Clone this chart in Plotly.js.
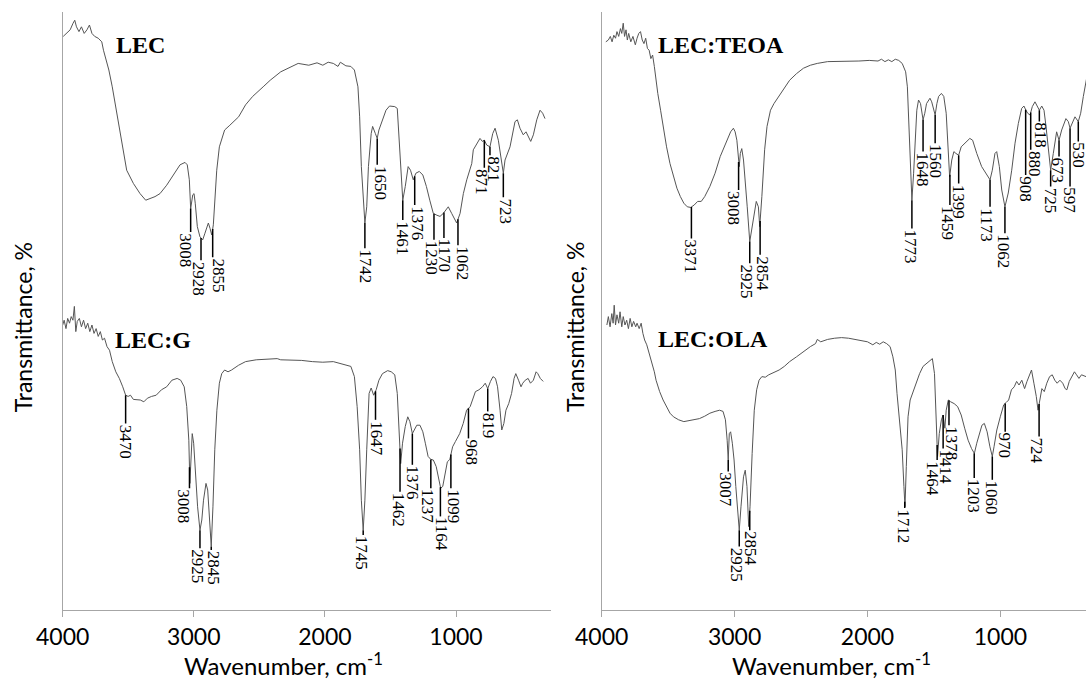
<!DOCTYPE html>
<html><head><meta charset="utf-8">
<script src="https://cdn.plot.ly/plotly-3.0.1.min.js"></script>
<style>html,body{margin:0;padding:0;background:#fff}#chart{width:1086px;height:679px}</style>
</head><body><div id="chart"></div>
<script>
// ---- Spectrum data (wavenumber, cm-1 / transmittance, arbitrary offset %) ----
const lecWn = [3996,3969,3943,3921,3908,3895,3876,3857,3836,3815,3796,3777,3756,3729,3702,3689,3675,3648,3622,3595,3568,3540,3512,3461,3410,3367,3334,3296,3258,3207,3156,3105,3067,3050,3034,3024,3008,2998,2989,2973,2953,2932,2915,2889,2876,2863,2851,2838,2825,2805,2765,2725,2658,2605,2551,2471,2417,2337,2257,2204,2123,2060,2016,1975,1936,1900,1882,1840,1802,1775,1748,1735,1722,1708,1695,1681,1668,1647,1636,1615,1601,1588,1561,1534,1507,1467,1448,1427,1406,1387,1365,1347,1326,1306,1280,1253,1226,1200,1173,1146,1122,1097,1059,1033,995,969,944,918,880,868,842,817,799,784,766,741,720,702,677,651,639,626,588,550,532,512,487,466,448,430,410,384,359,339,321];
const lecT = [95.6,96.1,96.7,97.8,98.3,97.2,96.4,97.2,96.1,96.7,97.5,96.1,95.6,95.3,94.7,93.3,92.2,90,87.2,83.9,80.6,76.7,73.3,71.1,69.4,68.3,68.6,68.9,69.4,70.8,72.5,74.2,74.6,74.2,71.7,66.9,69.2,69.4,67.8,63.9,62.2,61.7,62.8,64.5,63.6,62.5,64.2,68.3,73.3,77.2,80,80.8,82.2,84.2,85.6,87.2,88.3,89.7,90.6,91.1,90.8,91.2,90.8,91.3,91.1,90.6,91.3,90.7,90.6,90,87.2,82.2,73.9,68.3,64.5,67.2,73.9,79.4,80.6,79.4,78.6,80,81.7,83.3,84,83.9,83.6,76.7,68.3,70.6,73.9,73.3,71.7,72.8,73.1,72.5,70.6,68.3,66.1,65.8,65.6,66.1,67.2,66.1,64.5,66.1,69.4,71.7,74.4,76.7,77.8,78.6,78.1,78.3,77.5,77.2,79.4,80.3,78.3,73.9,72.8,75,77.2,81.4,81.7,80.3,79.2,79.7,78.9,78.1,79.2,81.7,83.3,82.8,81.9];

const lecgWn = [4000,3989,3975,3962,3948,3935,3922,3911,3900,3889,3873,3857,3841,3825,3809,3793,3777,3761,3745,3729,3713,3697,3681,3662,3643,3622,3595,3568,3542,3520,3501,3483,3461,3434,3408,3381,3354,3322,3287,3247,3207,3167,3127,3100,3073,3054,3038,3030,3020,3012,3001,2988,2971,2953,2939,2926,2907,2894,2881,2867,2854,2840,2824,2805,2787,2765,2739,2712,2658,2605,2524,2444,2364,2337,2257,2177,2096,2016,1936,1882,1829,1802,1775,1754,1735,1722,1708,1695,1681,1663,1647,1628,1609,1588,1561,1521,1494,1467,1448,1432,1422,1408,1387,1368,1352,1333,1320,1299,1275,1253,1234,1213,1192,1173,1151,1133,1117,1101,1085,1066,1047,1026,1004,972,945,919,892,871,852,825,798,777,758,737,718,699,683,664,651,635,619,598,576,557,544,523,504,491,472,450,432,410,389,376,357,335];
const lecgT = [47.5,48.3,46.9,48.6,47.8,48.9,48.3,50.6,46.4,48.1,48.6,47.2,48.3,46.9,47.8,46.4,47.5,46.1,46.9,45.6,46.4,45,45.3,43.9,43.3,41.4,39.7,38.6,37.2,35.8,35.6,35.8,35.1,35,35,34.7,35.3,35.6,35.8,36.7,37.2,38.3,38.6,38.3,37.2,33.9,28.3,21.1,26.7,29.4,27.8,22.8,17.2,13.3,15,18.3,21.1,20,16.1,10.6,17.2,26.7,33.3,37.8,39.4,40,39.7,40,40.8,41.4,41.7,41.8,41.9,41.7,41.7,41.6,41.4,41.3,41.4,41.1,40.8,40.6,38.9,33.9,26.7,18.3,13.3,18.3,26.7,36.1,37,35.8,36.7,38.3,39.4,39.9,39.7,39.2,36.1,29.4,24.4,27.8,30.6,32.2,31.4,29.4,30,30.8,30.8,29.7,27.8,25.6,25.1,25,23.9,21.7,20.3,20.6,22.8,24.7,25.1,27.2,28.1,29.4,31.1,33.3,33.9,35.3,36.4,36.7,37.2,37.8,36.9,38.1,38.9,38.6,37.2,33.3,30,31.1,33.3,34.4,36.1,38.6,39.4,38.3,37.2,37.8,38.3,38.6,37.8,38.3,39.7,39.4,38.6,38.1];

const teoaWn = [3969,3950,3935,3922,3909,3896,3885,3872,3859,3849,3838,3828,3817,3807,3797,3781,3765,3747,3734,3721,3708,3695,3682,3669,3656,3643,3630,3617,3604,3591,3578,3557,3538,3512,3486,3460,3434,3408,3382,3356,3330,3304,3278,3251,3225,3186,3147,3108,3069,3030,3009,2996,2983,2972,2965,2957,2946,2933,2920,2905,2886,2868,2852,2837,2821,2811,2795,2774,2756,2730,2704,2678,2652,2626,2586,2534,2482,2430,2378,2300,2221,2143,2065,1987,1921,1895,1869,1843,1817,1791,1765,1739,1713,1700,1687,1679,1666,1653,1642,1629,1616,1601,1582,1569,1556,1530,1517,1504,1491,1478,1465,1444,1426,1408,1392,1382,1366,1350,1335,1314,1295,1269,1243,1230,1209,1178,1141,1103,1078,1061,1041,1028,1008,990,966,941,915,890,865,840,823,808,795,777,760,740,723,707,689,672,657,640,622,602,577,559,539,507,489,476,456,439,414,396,376,356,340];
const teoaT = [94.7,95,95.6,94.7,95.8,95.3,96.4,95.6,96.9,96.1,97.8,95.6,96.7,95,96.1,94.7,95.6,94.2,95.3,96.1,96.4,95,94.4,95.3,93.6,93.3,91.9,92.5,90.6,88.3,86.1,83.3,80.6,77.2,74.4,72.2,70.3,68.9,67.8,67.2,67.1,67.5,68.1,68.1,68.9,70.6,72.8,75.6,77.8,79.7,80.3,79.7,78.3,75,73.9,76.1,76.9,75,71.7,67.2,61.4,63.9,66.7,68.1,67.2,63.9,68.9,76.7,80.6,83.3,84.4,85.3,86.1,86.9,88.3,89.4,90.3,90.8,91.1,91.4,91.4,91.4,91.5,91.6,91.5,91.8,91.4,91.7,91.4,91.8,91.6,91.1,89.7,87.2,79.4,73.9,68.3,72.8,78.3,83.3,85,84.4,81.7,82.8,84.4,85.3,84.7,83.3,82.5,84.4,85.6,86.1,85.6,82.8,76.7,72.2,75,76.4,76.1,75.8,77.2,77.8,78.3,78.6,78.3,76.1,73.9,72.5,71.7,73.3,76.1,76.4,73.9,70,67.2,69.5,73.3,77.8,81.1,83.6,84,83.3,82.8,82.5,83.9,84.7,83.9,83.3,84,83.3,80.6,76.7,73.3,76.1,79.7,78.3,80,81.9,81.4,80.3,81.4,82.2,81.4,82.8,85.6,88.3,90];

const olaWn = [3961,3950,3937,3924,3914,3906,3896,3885,3872,3862,3849,3838,3825,3812,3799,3786,3773,3760,3744,3734,3718,3703,3690,3677,3661,3643,3630,3617,3604,3591,3564,3538,3512,3486,3460,3421,3382,3343,3304,3265,3225,3186,3147,3113,3087,3069,3056,3048,3040,3030,3017,3004,2991,2978,2965,2952,2933,2920,2907,2894,2884,2868,2852,2834,2816,2795,2769,2743,2704,2665,2626,2586,2534,2482,2430,2391,2378,2352,2300,2247,2195,2143,2091,2039,2000,1960,1934,1908,1882,1856,1830,1809,1791,1778,1765,1752,1739,1726,1718,1708,1695,1679,1661,1635,1608,1582,1556,1530,1512,1496,1486,1473,1460,1444,1431,1418,1408,1392,1374,1348,1322,1295,1269,1243,1217,1196,1178,1157,1139,1121,1100,1079,1061,1048,1027,1001,975,956,938,917,896,878,860,839,818,800,782,766,748,730,717,704,688,670,651,630,610,591,573,552,531,513,500,482,461,443,427,409,390,356];
const olaT = [47.5,48.9,47.2,49.4,47.8,50.8,47.5,49.2,47.8,49.7,47.2,48.9,47.5,48.3,46.9,48.6,47.2,48.1,47.2,47.8,46.9,47.8,46.1,45,44.2,42.8,41.7,40.8,39.7,38.3,36.4,35,33.9,32.8,32.2,31.7,31.4,31.6,31.8,31.9,32.3,32.8,33.1,33.3,33.1,31.7,28.3,25,29.4,29.7,27.8,25,20.6,16.1,13.3,17.2,22.2,23.3,20.6,13.9,17.2,26.1,33.3,36.7,38.3,38.9,38.8,39.2,39.6,40,40.6,41.4,42.2,43.1,43.9,44.4,45.1,44.7,45.1,45.3,45.4,45.3,45.1,44.9,44.7,44.2,44.6,44.3,44.7,44.4,43.9,42.2,40,36.1,33.3,30.6,26.7,20.6,17.2,23.9,32.2,35,36.1,37.8,39.4,40.6,41.1,41.7,41.9,39.4,33.9,25.6,29.4,31.7,32.5,30.3,33.3,35,34.7,34.4,33.9,32.5,30.3,28.3,26.9,26.1,27.8,29.4,30.8,31.1,29.7,27.2,25.6,27.2,30,32.2,34.2,34.6,35,36.7,37.2,38.1,37.5,38.3,36.9,38.1,39.2,40,37.8,35.6,33.3,35,36.9,36.4,37.8,38.9,39.2,38.3,37.8,38.3,37.8,36.9,36.7,38.1,38.9,39.7,39.2,38.6,39.2,38.9];

// ---- Sample names ----
const sampleNames = ['LEC', 'LEC:G', 'LEC:TEOA', 'LEC:OLA'];

// ---- Peak labels: text, position on the drawn spectrum, level where the label text begins ----
const lecPeakText = ['3008','2928','2855','1742','1650','1461','1376','1230','1170','1062','871','821','723'];
const lecPeakPos  = [3024,2945,2856,1695,1601,1406,1315,1168,1092,985,784,741,639];
const lecPeakEnd  = [63,58.3,58.8,60.3,74.2,65,67.5,61.7,62,60.8,73.7,75.8,68.8];

const lecgPeakText = ['3470','3008','2925','2845','1745','1647','1462','1376','1237','1164','1099','968','819'];
const lecgPeakPos  = [3520,3033,2953,2867,1708,1614,1427,1333,1192,1119,1039,905,758];
const lecgPeakEnd  = [31.1,20.3,10.3,10,12.5,31.7,19.7,24.2,20.3,15.6,20.3,28.6,33.1];

const teoaPeakText = ['3371','3008','2925','2854','1773','1648','1560','1459','1399','1173','1062','908','880','818','725','673','597','530'];
const teoaPeakPos  = [3325,2970,2886,2808,1666,1582,1491,1380,1314,1078,966,810,772,707,622,559,476,414];
const teoaPeakEnd  = [61.9,70,57.8,59.2,63.6,76.4,77.8,67.5,71.1,67.2,62.8,72.5,76.7,81.4,70.6,75.6,70.6,78.1];

const olaPeakText = ['3007','2925','2854','1712','1464','1414','1378','1203','1060','970','724'];
const olaPeakPos  = [3048,2965,2886,1720,1476,1431,1387,1197,1061,964,709];
const olaPeakEnd  = [23.1,10.6,13.3,17,25,26.9,30.8,22,21.7,29.7,28.9];

// ---- Axis ticks ----
const xTicks = [4000, 3000, 2000, 1000];
const xTickText = ['4000', '3000', '2000', '1000'];

// ---- Layout / styling (label text nudges in px, as placed in the original figure) ----
const lecNudge  = [-5,-2.5,6,1,2.5,0,3,-3,1,5,-3.5,4,2.5];
const lecgNudge = [0,-5.5,-2,3,-1,1.5,-2,0,-4,1,3,3.5,1];
const teoaNudge = [-1,-4.5,-3,3,-1,-1,1,-2,0,-3,-1,0,3,1,0,-1,0,0];
const olaNudge  = [-3.5,-2.5,1,-1,-5,2.5,3,0,-1,-1,-3];

const W = 1086, H = 679;
const AXIS_GRAY = '#a6a6a6';
const serif = 'Liberation Serif, Times New Roman, serif';
const sans = 'Lato, Open Sans, sans-serif';

function interp(xs, ys, x) {
  for (let i = 0; i < xs.length - 1; i++) {
    const a = xs[i], b = xs[i + 1];
    if (x <= a && x >= b) {
      const t = (x - a) / (b - a);
      return ys[i] + t * (ys[i + 1] - ys[i]);
    }
  }
  return ys[ys.length - 1];
}

const series = [
  {name: sampleNames[0], wn: lecWn, t: lecT, pt: lecPeakText, pp: lecPeakPos, pe: lecPeakEnd, nd: lecNudge, xr: 'x', yr: 'y', labelX: 3609, labelY: 94.2},
  {name: sampleNames[1], wn: lecgWn, t: lecgT, pt: lecgPeakText, pp: lecgPeakPos, pe: lecgPeakEnd, nd: lecgNudge, xr: 'x', yr: 'y', labelX: 3616, labelY: 45},
  {name: sampleNames[2], wn: teoaWn, t: teoaT, pt: teoaPeakText, pp: teoaPeakPos, pe: teoaPeakEnd, nd: teoaNudge, xr: 'x2', yr: 'y2', labelX: 3591, labelY: 94.2},
  {name: sampleNames[3], wn: olaWn, t: olaT, pt: olaPeakText, pp: olaPeakPos, pe: olaPeakEnd, nd: olaNudge, xr: 'x2', yr: 'y2', labelX: 3591, labelY: 45.2}
];

const traces = [], shapes = [], annotations = [];
series.forEach(s => {
  traces.push({
    type: 'scatter', mode: 'lines', x: s.wn, y: s.t, xaxis: s.xr, yaxis: s.yr,
    line: {color: '#555555', width: 1}, hoverinfo: 'skip', showlegend: false
  });
  annotations.push({
    xref: s.xr, yref: s.yr, x: s.labelX, y: s.labelY, xanchor: 'left', yanchor: 'middle',
    text: '<b>' + s.name + '</b>', showarrow: false,
    font: {family: serif, size: 24, color: '#000'}
  });
  s.pt.forEach((txt, i) => {
    const x = s.pp[i];
    const top = interp(s.wn, s.t, x);
    shapes.push({
      type: 'line', xref: s.xr, yref: s.yr, x0: x, x1: x, y0: top, y1: s.pe[i],
      line: {color: '#000', width: 1.5}
    });
    annotations.push({
      xref: s.xr, yref: s.yr, x: x, y: s.pe[i], xanchor: 'center', yanchor: 'top',
      xshift: s.nd[i],
      text: txt, textangle: 90, showarrow: false, borderpad: 0,
      font: {family: serif, size: 17, color: '#000'}
    });
  });
});

// axis titles
[[283.5, 'Wavenumber, cm<sup>-1</sup>'], [831, 'Wavenumber, cm<sup>-1</sup>']].forEach(([px, txt]) => {
  annotations.push({xref: 'paper', yref: 'paper', x: px / W, y: (H - 664) / H, xanchor: 'center', yanchor: 'middle',
    text: txt, showarrow: false, font: {family: sans, size: 24, color: '#000'}});
});
[23.3, 575].forEach(px => {
  annotations.push({xref: 'paper', yref: 'paper', x: px / W, y: (H - 327) / H, xanchor: 'center', yanchor: 'middle',
    text: 'Transmittance, %', textangle: -90, showarrow: false, font: {family: sans, size: 23, color: '#000'}});
});

const xBase = {
  showline: true, linecolor: AXIS_GRAY, linewidth: 1, ticks: 'outside', ticklen: 6, tickwidth: 1, tickcolor: AXIS_GRAY,
  tickvals: xTicks, ticktext: xTickText, showgrid: false, zeroline: false,
  tickfont: {family: sans, size: 23, color: '#000'}
};
const yBase = {
  showline: true, linecolor: AXIS_GRAY, linewidth: 1, ticks: '', showticklabels: false,
  showgrid: false, zeroline: false, range: [0, 99.67], domain: [(H - 610) / H, (H - 12) / H]
};

const layout = {
  width: W, height: H, margin: {l: 0, r: 0, t: 0, b: 0, pad: 0},
  paper_bgcolor: '#fff', plot_bgcolor: '#fff', showlegend: false,
  xaxis: Object.assign({}, xBase, {domain: [62.7 / W, 550.7 / W], range: [4000, 277.7], anchor: 'y'}),
  yaxis: Object.assign({}, yBase, {anchor: 'x'}),
  xaxis2: Object.assign({}, xBase, {domain: [601.7 / W, 1], range: [4000, 356], anchor: 'y2'}),
  yaxis2: Object.assign({}, yBase, {anchor: 'x2'}),
  shapes: shapes, annotations: annotations
};

Plotly.newPlot('chart', traces, layout, {displayModeBar: false, staticPlot: true});
</script>
</body></html>
